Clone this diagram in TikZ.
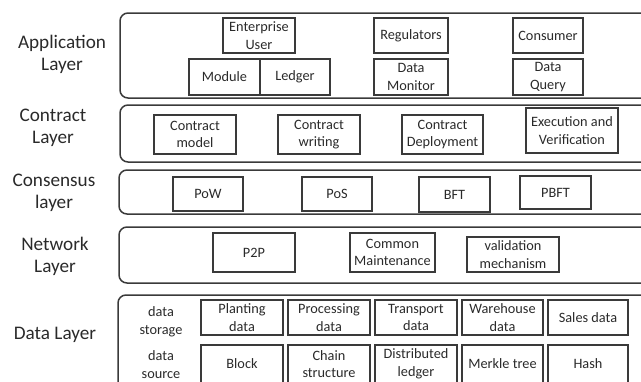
\documentclass[tikz,border=0pt]{standalone}
\usepackage{fontspec}
\setmainfont{Carlito}
\definecolor{ink}{HTML}{2A2A2A}
\definecolor{edge}{HTML}{3A3A3A}
\begin{document}
\begin{tikzpicture}[x=1pt,y=-1pt,
  layer/.style={draw=edge,line width=1.5pt,rounded corners=8pt},
  bx/.style={draw=edge,line width=1.2pt,inner sep=0pt,align=center,text=ink,
    font=\fontsize{14.3}{17.5}\selectfont},
  lbl/.style={align=center,text=ink,font=\fontsize{19.2}{22}\selectfont},
  sub/.style={align=center,text=ink,font=\fontsize{14.3}{17.5}\selectfont}]
\useasboundingbox (0,0) rectangle (641,381);
\clip (0,0) rectangle (641,381);
% layer containers
\draw[layer] (120,13) rectangle (660,98);
\draw[layer] (120,105) rectangle (660,162);
\draw[layer] (119,170) rectangle (660,214);
\draw[layer] (119,227) rectangle (660,283);
\draw[layer] (118,295) rectangle (660,420);
% left labels
\node[lbl] (lapp) at (62,54) {Application\\Layer};
\node[lbl] (lcon) at (53,128) {Contract\\Layer};
\node[lbl] (lcns) at (54,193) {Consensus\\layer};
\node[lbl] (lnet) at (55,256) {Network\\Layer};
\node[lbl] (ldat) at (55,335) {Data Layer};
% application layer
\node[bx,minimum width=72,minimum height=35] (eu) at (259,35.5) {Enterprise\\User};
\node[bx,minimum width=71,minimum height=36] (mod) at (224.5,77) {Module};
\node[bx,minimum width=70,minimum height=36] (led) at (295,77) {Ledger};
\node[bx,minimum width=74,minimum height=35] (reg) at (411,35.5) {Regulators};
\node[bx,minimum width=74,minimum height=36] (dmon) at (411,77) {Data\\Monitor};
\node[bx,minimum width=70,minimum height=35] (cons) at (548,35.5) {Consumer};
\node[bx,minimum width=70,minimum height=36] (dq) at (548,77) {Data\\Query};
% contract layer
\node[bx,minimum width=82,minimum height=39] (cm) at (195,134.5) {Contract\\model};
\node[bx,minimum width=82,minimum height=39] (cw) at (319,134.5) {Contract\\writing};
\node[bx,minimum width=81,minimum height=39] (cd) at (442.5,134.5) {Contract\\Deployment};
\node[bx,minimum width=92,minimum height=45] (ev) at (572,130.5) {Execution and\\Verification};
% consensus layer
\node[bx,minimum width=70,minimum height=34] (pow) at (208,194) {PoW};
\node[bx,minimum width=70,minimum height=34] (pos) at (337,194) {PoS};
\node[bx,minimum width=71,minimum height=35] (bft) at (454.5,194.5) {BFT};
\node[bx,minimum width=71,minimum height=33] (pbft) at (555.5,192.5) {PBFT};
% network layer
\node[bx,minimum width=82,minimum height=39] (p2p) at (254,252.5) {P2P};
\node[bx,minimum width=85,minimum height=39] (cmn) at (392.5,252.5) {Common\\Maintenance};
\node[bx,minimum width=92,minimum height=35] (val) at (513,254.5) {validation\\mechanism};
% data layer
\node[sub] (dst) at (161,322) {data\\storage};
\node[sub] (dsr) at (161,364.5) {data\\source};
\node[bx,minimum width=82,minimum height=35] (plant) at (242,317.5) {Planting\\data};
\node[bx,minimum width=82,minimum height=35] (proc) at (329,317.5) {Processing\\data};
\node[bx,minimum width=82,minimum height=35] (trans) at (416,317.5) {Transport\\data};
\node[bx,minimum width=81,minimum height=35] (ware) at (502.5,317.5) {Warehouse\\data};
\node[bx,minimum width=80,minimum height=35] (sales) at (588,317.5) {Sales data};
\node[bx,minimum width=82,minimum height=38] (block) at (242,364) {Block};
\node[bx,minimum width=82,minimum height=38] (chain) at (329,364) {Chain\\structure};
\node[bx,minimum width=82,minimum height=38] (dled) at (416,364) {Distributed\\ledger};
\node[bx,minimum width=81,minimum height=38] (merk) at (502.5,364) {Merkle tree};
\node[bx,minimum width=80,minimum height=38] (hash) at (588,364) {Hash};
\end{tikzpicture}
\end{document}
